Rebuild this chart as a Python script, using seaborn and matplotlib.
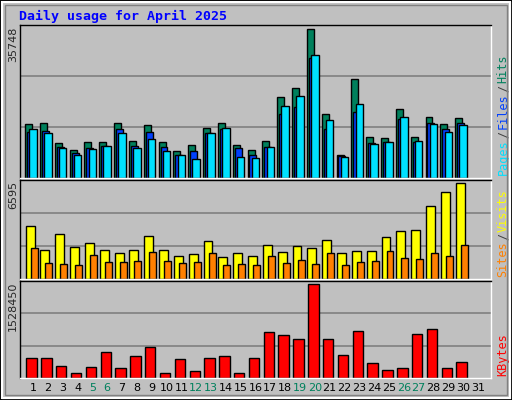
import matplotlib
matplotlib.use("Agg")
import matplotlib.pyplot as plt
from matplotlib.patches import Rectangle
import seaborn as sns
import numpy as np

sns.set_style("white")
plt.rcParams['font.family'] = ['DejaVu Sans Mono', 'DejaVu Sans']

days = list(range(1, 32))
weekends = [5, 6, 12, 13, 19, 20, 26, 27]

hits = [12940, 13180, 8330, 6630, 8570, 8570, 13180, 8815, 12700, 8570, 6390, 7845, 11970, 13180, 7845,
        6630, 8815, 19490, 21675, 35748, 15365, 5420, 23860, 9785, 9545, 16580, 9785, 14640, 12940, 14395]
files = [11000, 11240, 7360, 5905, 7120, 7600, 11730, 7600, 11000, 7360, 5420, 6390, 10755, 11730, 7120,
         5420, 7360, 15365, 17065, 28710, 11730, 5175, 15850, 8330, 8570, 14150, 8570, 13180, 11730, 13180]
pages = [11730, 10755, 7120, 5420, 6875, 7600, 10755, 7120, 9300, 6390, 5420, 4450, 10755, 11970, 4935,
         4690, 7360, 17310, 19730, 29440, 13910, 4935, 17790, 8090, 8570, 14640, 8815, 12940, 11000, 12700]
visits = [3667, 2024, 3095, 2167, 2452, 2024, 1810, 2024, 2952, 2024, 1595, 1738, 2595, 1524, 1810,
          1595, 2310, 1881, 2238, 2095, 2667, 1810, 1952, 1952, 2881, 3310, 3381, 5024, 5952, 6595]
sites = [2095, 1095, 1024, 952, 1667, 1167, 1167, 1238, 1881, 1238, 1095, 1167, 1810, 952, 1024,
         952, 1595, 1095, 1310, 1024, 1810, 952, 1167, 1238, 1952, 1452, 1381, 1810, 1595, 2310]
kbytes = [323500, 323500, 189650, 89250, 172900, 423900, 156200, 357000, 507600, 89250, 306800, 106000,
          323500, 357000, 89250, 323500, 741900, 691700, 641500, 1528450, 641500, 373700, 758600, 239850,
          122700, 156200, 708400, 792100, 156200, 256600]

W, H = 512, 400
fig = plt.figure(figsize=(W / 100, H / 100), dpi=100, facecolor='#C0C0C0')

# bevel frame
fig.patches.append(Rectangle((0, 0), 1, 1, transform=fig.transFigure, fill=False, ec='black', lw=2))
fig.patches.append(Rectangle((2 / W, 2 / H), 1 - 4 / W, 1 - 4 / H, transform=fig.transFigure,
                             fill=False, ec='white', lw=1.5))
fig.patches.append(Rectangle((5 / W, 5 / H), 1 - 10 / W, 1 - 10 / H, transform=fig.transFigure,
                             fill=False, ec='#808080', lw=1))

left, right = 20 / W, 491 / W
def ax_at(top, bottom):
    return fig.add_axes([left, 1 - bottom / H, right - left, (bottom - top) / H])

ax1 = ax_at(25, 178)
ax2 = ax_at(180, 279)
ax3 = ax_at(281, 378)

x = np.array(days[:30])
ec = dict(edgecolor='black', linewidth=1)
ax1.bar(x - 0.3, hits, width=0.47, color='#00805C', **ec)
ax1.bar(x - 0.17, files, width=0.47, color='#0040FF', **ec)
ax1.bar(x + 0.0, pages, width=0.5, color='#00E0FF', **ec)
ax2.bar(x - 0.2, visits, width=0.6, color='#FFFF00', **ec)
ax2.bar(x + 0.07, sites, width=0.47, color='#FF8000', **ec)
ax3.bar(x - 0.1, kbytes, width=0.7, color='#FF0000', **ec)

for ax, mx, frac in [(ax1, max(hits), 149 / 153), (ax2, max(visits), 97 / 100), (ax3, max(kbytes), 94 / 97)]:
    top = mx / frac
    ax.set_ylim(0, top)
    ax.set_xlim(0.12, 31.88)
    ax.set_facecolor('#C0C0C0')
    for k in (1, 2):
        ax.axhline(top * k / 3, color='#808080', lw=1.2, zorder=0)
    ax.set_xticks([])
    ax.set_yticks([])
    for s in ax.spines.values():
        s.set_color('black')
        s.set_linewidth(1)
    ax.spines['right'].set_color('white')
    ax.spines['bottom'].set_color('white')
    ax.text(-0.004, 0.99, str(mx), transform=ax.transAxes, rotation=90, ha='right', va='top',
            fontsize=8, family='DejaVu Sans', zorder=10)

for d in days:
    ax3.text(d, -0.05, str(d), transform=ax3.get_xaxis_transform(), ha='center', va='top',
             fontsize=8, family='DejaVu Sans', color='#00805C' if d in weekends else 'black')

fig.text(19 / W, 1 - 16 / H, "Daily usage for April 2025", color='#0000FF', fontsize=9.5,
         fontweight='bold', va='center', ha='left')

def side_label(ax, parts):
    y = 0.02
    for txt, col in parts:
        t = ax.text(1.012, y, txt, transform=ax.transAxes, rotation=90, ha='left', va='bottom',
                    fontsize=8.5, color=col)
        fig.canvas.draw()
        bb = t.get_window_extent().transformed(ax.transAxes.inverted())
        y = bb.y1 + 0.01

side_label(ax1, [("Pages", '#00E0FF'), ("/", '#404040'), ("Files", '#0040FF'), ("/", '#404040'), ("Hits", '#00805C')])
side_label(ax2, [("Sites", '#FF8000'), ("/", '#404040'), ("Visits", '#FFFF00')])
side_label(ax3, [("KBytes", '#FF0000')])

fig.savefig("out.png", dpi=100, facecolor=fig.get_facecolor())
